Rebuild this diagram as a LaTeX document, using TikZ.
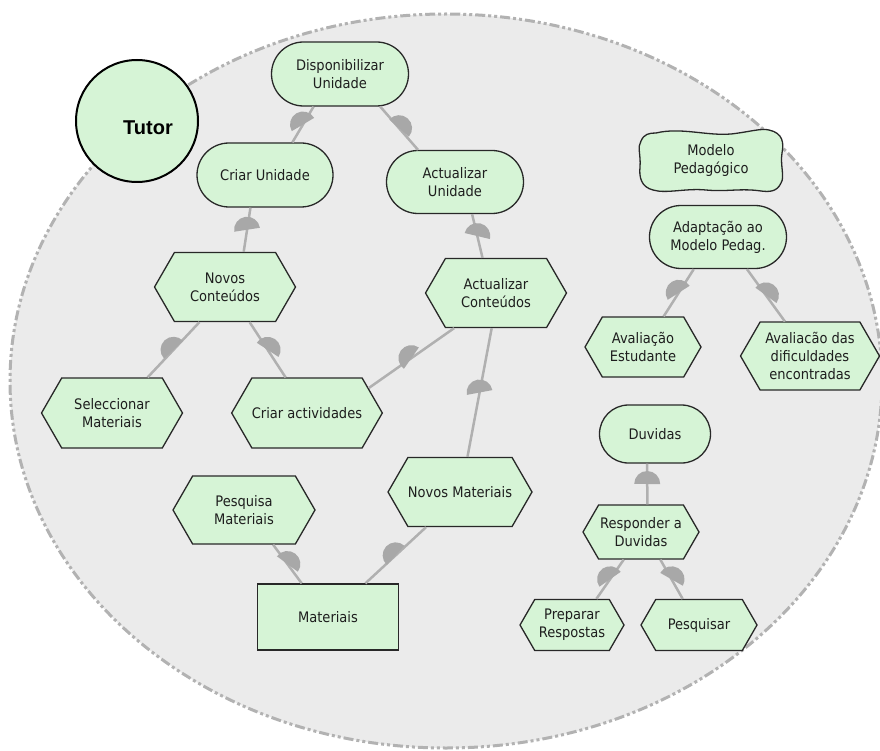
\documentclass[tikz,border=0pt]{standalone}
\usepackage{fontspec}
\setmainfont{DejaVu Sans Condensed}
\newfontfamily\tutorfont{Liberation Sans}
\usetikzlibrary{shapes.misc,shapes.symbols,decorations.markings}
\definecolor{nodefill}{RGB}{214,244,214}
\definecolor{actorfill}{RGB}{235,235,235}
\definecolor{actorline}{RGB}{178,178,178}
\definecolor{linkgray}{RGB}{176,176,176}
\definecolor{domegray}{RGB}{168,168,168}
\definecolor{nodeline}{RGB}{40,40,40}
\definecolor{textcol}{RGB}{30,30,30}
\newcommand\linkdome{%
  \pgfgettransformentries{\lkA}{\lkB}{\lkC}{\lkD}{\lkX}{\lkY}%
  \pgfmathsetmacro\lkang{atan2(\lkB,\lkA)}%
  \pgftransformresetnontranslations
  \pgftransformrotate{180-\lkang}%
  \pgfpathmoveto{\pgfpoint{0pt}{-13pt}}%
  \pgfpatharc{-90}{90}{13pt}%
  \pgfpathclose
  \pgfsetfillcolor{domegray}%
  \pgfusepath{fill}%
}
\tikzset{
  base/.style={fill=nodefill, draw=nodeline, line width=1.3pt, align=center,
    text=textcol, inner sep=2pt, font=\fontsize{14.5pt}{18pt}\selectfont},
  goal/.style={base, rounded rectangle},
  task/.style={base, inner xsep=0pt, signal, signal to=east and west, signal from=nowhere,
    signal pointer angle=120},
  resource/.style={base, rectangle},
  link/.style={draw=linkgray, line width=2.5pt,
    postaction={decorate, decoration={markings, mark=at position 0.5 with {\linkdome}}}},
}
\begin{document}
\begin{tikzpicture}[x=1pt,y=-1pt]
\useasboundingbox (0,0) rectangle (880,751);
% actor boundary
\fill[actorfill] (446,381) ellipse [x radius=436, y radius=367];
\draw[actorline, line width=3pt, dash pattern=on 10pt off 3pt on 3pt off 3pt on 3pt off 3pt]
  (446,381) ellipse [x radius=436, y radius=367];
% actor
\node[circle, fill=nodefill, draw=black, line width=2pt, minimum size=122pt, inner sep=0pt] (tutor) at (137,121) {};
\node[font=\tutorfont\bfseries\fontsize{20pt}{24pt}\selectfont, text=black, inner sep=0pt] (tutorlbl) at (148,128) {Tutor};
% goals
\node[goal, minimum width=141pt, minimum height=64pt] (dU) at (340,74) {Disponibilizar\\Unidade};
\node[goal, minimum width=140pt, minimum height=64pt] (crU) at (265,175) {Criar Unidade};
\node[goal, minimum width=141pt, minimum height=63pt] (aU) at (455,182) {Actualizar\\Unidade};
\node[goal, minimum width=141pt, minimum height=63pt] (ad) at (718,237) {Adaptação ao\\Modelo Pedag.};
\node[goal, minimum width=115pt, minimum height=58pt] (du) at (655,434) {Duvidas};
% tasks
\node[task, minimum width=141pt, minimum height=69pt] (nC) at (225,287) {Novos\\Conteúdos};
\node[task, minimum width=141pt, minimum height=69pt] (aC) at (496,293) {Actualizar\\Conteúdos};
\node[task, minimum width=141pt, minimum height=70pt] (sel) at (112,413) {Seleccionar\\Materiais};
\node[task, minimum width=141pt, minimum height=70pt] (cA) at (307,413) {Criar actividades};
\node[task, minimum width=142pt, minimum height=68pt] (pM) at (244,510) {Pesquisa\\Materiais};
\node[task, minimum width=141pt, minimum height=69pt] (nM) at (460,492) {Novos Materiais};
\node[task, minimum width=116pt, minimum height=60pt] (aE) at (643,347) {Avaliação\\Estudante};
\node[task, minimum width=139pt, minimum height=68pt] (aD) at (810,356) {Avaliacão das\\dificuldades\\encontradas};
\node[task, minimum width=116pt, minimum height=54pt] (rd) at (641,532) {Responder a\\Duvidas};
\node[task, minimum width=104pt, minimum height=51pt] (pR) at (572,625) {Preparar\\Respostas};
\node[task, minimum width=116pt, minimum height=51pt] (pq) at (699,625) {Pesquisar};
% resource
\node[resource, minimum width=141pt, minimum height=66pt] (mat) at (328,617) {Materiais};
% softgoal
\begin{scope}[shift={(711,161)}]
\draw[fill=nodefill, draw=nodeline, line width=1.3pt]
  (-55,-28) .. controls (-30,-34) and (-5,-25) .. (20,-27)
  .. controls (38,-29) and (50,-33) .. (58,-31)
  .. controls (72,-28) and (73,-18) .. (71,-8)
  .. controls (69,4) and (74,16) .. (70,22)
  .. controls (66,31) and (58,31) .. (50,30)
  .. controls (30,27) and (15,31) .. (-5,29)
  .. controls (-25,27) and (-45,33) .. (-58,29)
  .. controls (-70,26) and (-72,16) .. (-71,6)
  .. controls (-70,-6) and (-74,-14) .. (-70,-20)
  .. controls (-67,-27) and (-62,-28) .. (-55,-28) -- cycle;
\end{scope}
\node[align=center, text=textcol, font=\fontsize{14.5pt}{18pt}\selectfont, inner sep=0pt] (mp) at (711,161) {Modelo\\Pedagógico};
% links
\draw[link] (crU.50) -- (dU.231);
\draw[link] (aU.139) -- (dU.-39);
\draw[link] (nC.62) -- (crU.-114);
\draw[link] (aC.111) -- (aU.-62);
\draw[link] (sel.45) -- (nC.-126);
\draw[link] (cA.121) -- (nC.-55);
\draw[link] (cA.22) -- (aC.220);
\draw[link] (nM.78) -- (aC.-97);
\draw[link] (mat.128) -- (pM.-50);
\draw[link] (mat.42) -- (nM.-134);
\draw[link] (aE.56) -- (ad.-127);
\draw[link] (aD.126) -- (ad.-48);
\draw[link] (rd.77) -- (du.-105);
\draw[link] (pR.47) -- (rd.-122);
\draw[link] (pq.122) -- (rd.-55);
\end{tikzpicture}
\end{document}
